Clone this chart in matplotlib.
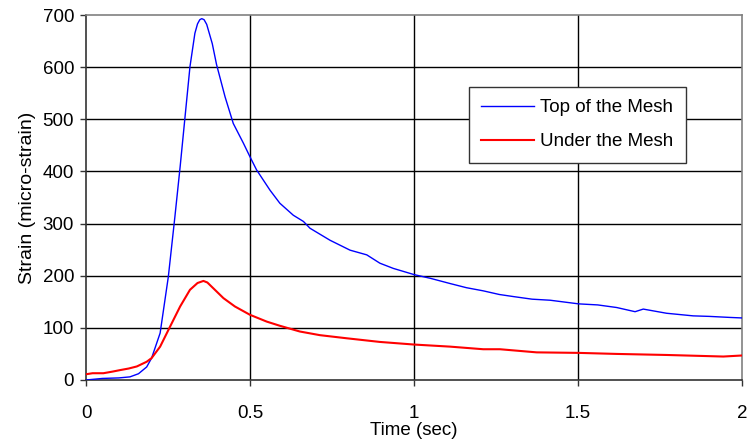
import matplotlib
matplotlib.use("Agg")
import matplotlib.pyplot as plt

plt.rcParams['font.family'] = ['Liberation Sans', 'DejaVu Sans']

# Top of the Mesh (blue)
top_t = [0.0, 0.05, 0.10, 0.134, 0.16, 0.185, 0.20, 0.226, 0.251, 0.271, 0.287, 0.302,
         0.317, 0.332, 0.340, 0.347, 0.353, 0.360, 0.368, 0.385, 0.398, 0.424, 0.449, 0.48, 0.50,
         0.52, 0.561, 0.591, 0.632, 0.663, 0.683, 0.744, 0.805, 0.856, 0.881, 0.896, 0.937,
         1.001, 1.05, 1.11, 1.16, 1.211, 1.26, 1.303, 1.36, 1.415, 1.502, 1.56, 1.618, 1.674,
         1.699, 1.77, 1.851, 1.90, 1.963, 2.0]
top_v = [0, 3, 4, 6, 12, 25, 42, 90, 198, 313, 409, 505,
         601, 665, 683, 691, 693, 691, 682, 645, 605, 543, 492, 454, 428,
         403, 364, 339, 316, 304, 291, 268, 249, 240, 230, 224, 214,
         202, 195, 185, 177, 171, 164, 160, 155, 153, 146, 144, 139, 131,
         136, 128, 123, 122, 120, 119]

# Under the Mesh (red)
under_t = [0.0, 0.02, 0.053, 0.08, 0.104, 0.13, 0.155, 0.185, 0.20, 0.226, 0.256, 0.287,
           0.317, 0.34, 0.358, 0.37, 0.388, 0.419, 0.454, 0.50, 0.551, 0.591, 0.652, 0.713,
           0.795, 0.896, 1.0, 1.11, 1.211, 1.262, 1.374, 1.502, 1.618, 1.77, 1.943, 2.0]
under_v = [11, 13, 13, 16, 19, 22, 26, 35, 42, 64, 102, 141,
           173, 186, 190, 187, 176, 157, 141, 125, 112, 104, 93, 86,
           80, 73, 68, 64, 59, 59, 53, 52, 50, 48, 45, 47]

x_ticks = [0, 0.5, 1, 1.5, 2]
x_tick_labels = ["0", "0.5", "1", "1.5", "2"]
y_ticks = [0, 100, 200, 300, 400, 500, 600, 700]

fig = plt.figure(figsize=(7.51, 4.43), dpi=100)
ax = fig.add_axes([86 / 751, 63 / 443, 656 / 751, 365 / 443])

ax.plot(top_t, top_v, color="#0000FF", lw=1.0, label="Top of the Mesh", zorder=3)
ax.plot(under_t, under_v, color="#FF0000", lw=1.5, label="Under the Mesh", zorder=3)

ax.set_xlim(0, 2)
ax.set_ylim(0, 700)
ax.set_xticks(x_ticks)
ax.set_xticklabels(x_tick_labels)
ax.set_yticks(y_ticks)

# grid
for y in y_ticks[1:-1]:
    ax.axhline(y, color="black", lw=1.0, zorder=1)
for x in x_ticks[1:-1]:
    ax.axvline(x, color="black", lw=1.0, zorder=1)

for side in ["top", "right"]:
    ax.spines[side].set_color("#808080")
    ax.spines[side].set_linewidth(1.2)
for side in ["left", "bottom"]:
    ax.spines[side].set_color("#333333")
    ax.spines[side].set_linewidth(1.2)

ax.tick_params(axis="y", direction="out", length=4.5, width=1, color="#333333",
               labelsize=13.5, pad=4)
ax.tick_params(axis="x", direction="out", length=4, width=1, color="#333333",
               labelsize=13.5, pad=14)

ax.set_xlabel("Time (sec)", fontsize=13.5, labelpad=0)
ax.set_ylabel("Strain (micro-strain)", fontsize=14, labelpad=5)

leg = ax.legend(loc="upper left", bbox_to_anchor=((469 - 86) / 656, (380 - 87) / 365),
                fontsize=13.5, frameon=True, fancybox=False, borderpad=0.65,
                handlelength=2.8, handletextpad=0.35, labelspacing=0.9,
                borderaxespad=0)
leg.get_frame().set_edgecolor("#333333")
leg.get_frame().set_linewidth(1.0)
leg.get_frame().set_facecolor("white")
leg.get_frame().set_alpha(1)

fig.savefig("out.png", dpi=100)
